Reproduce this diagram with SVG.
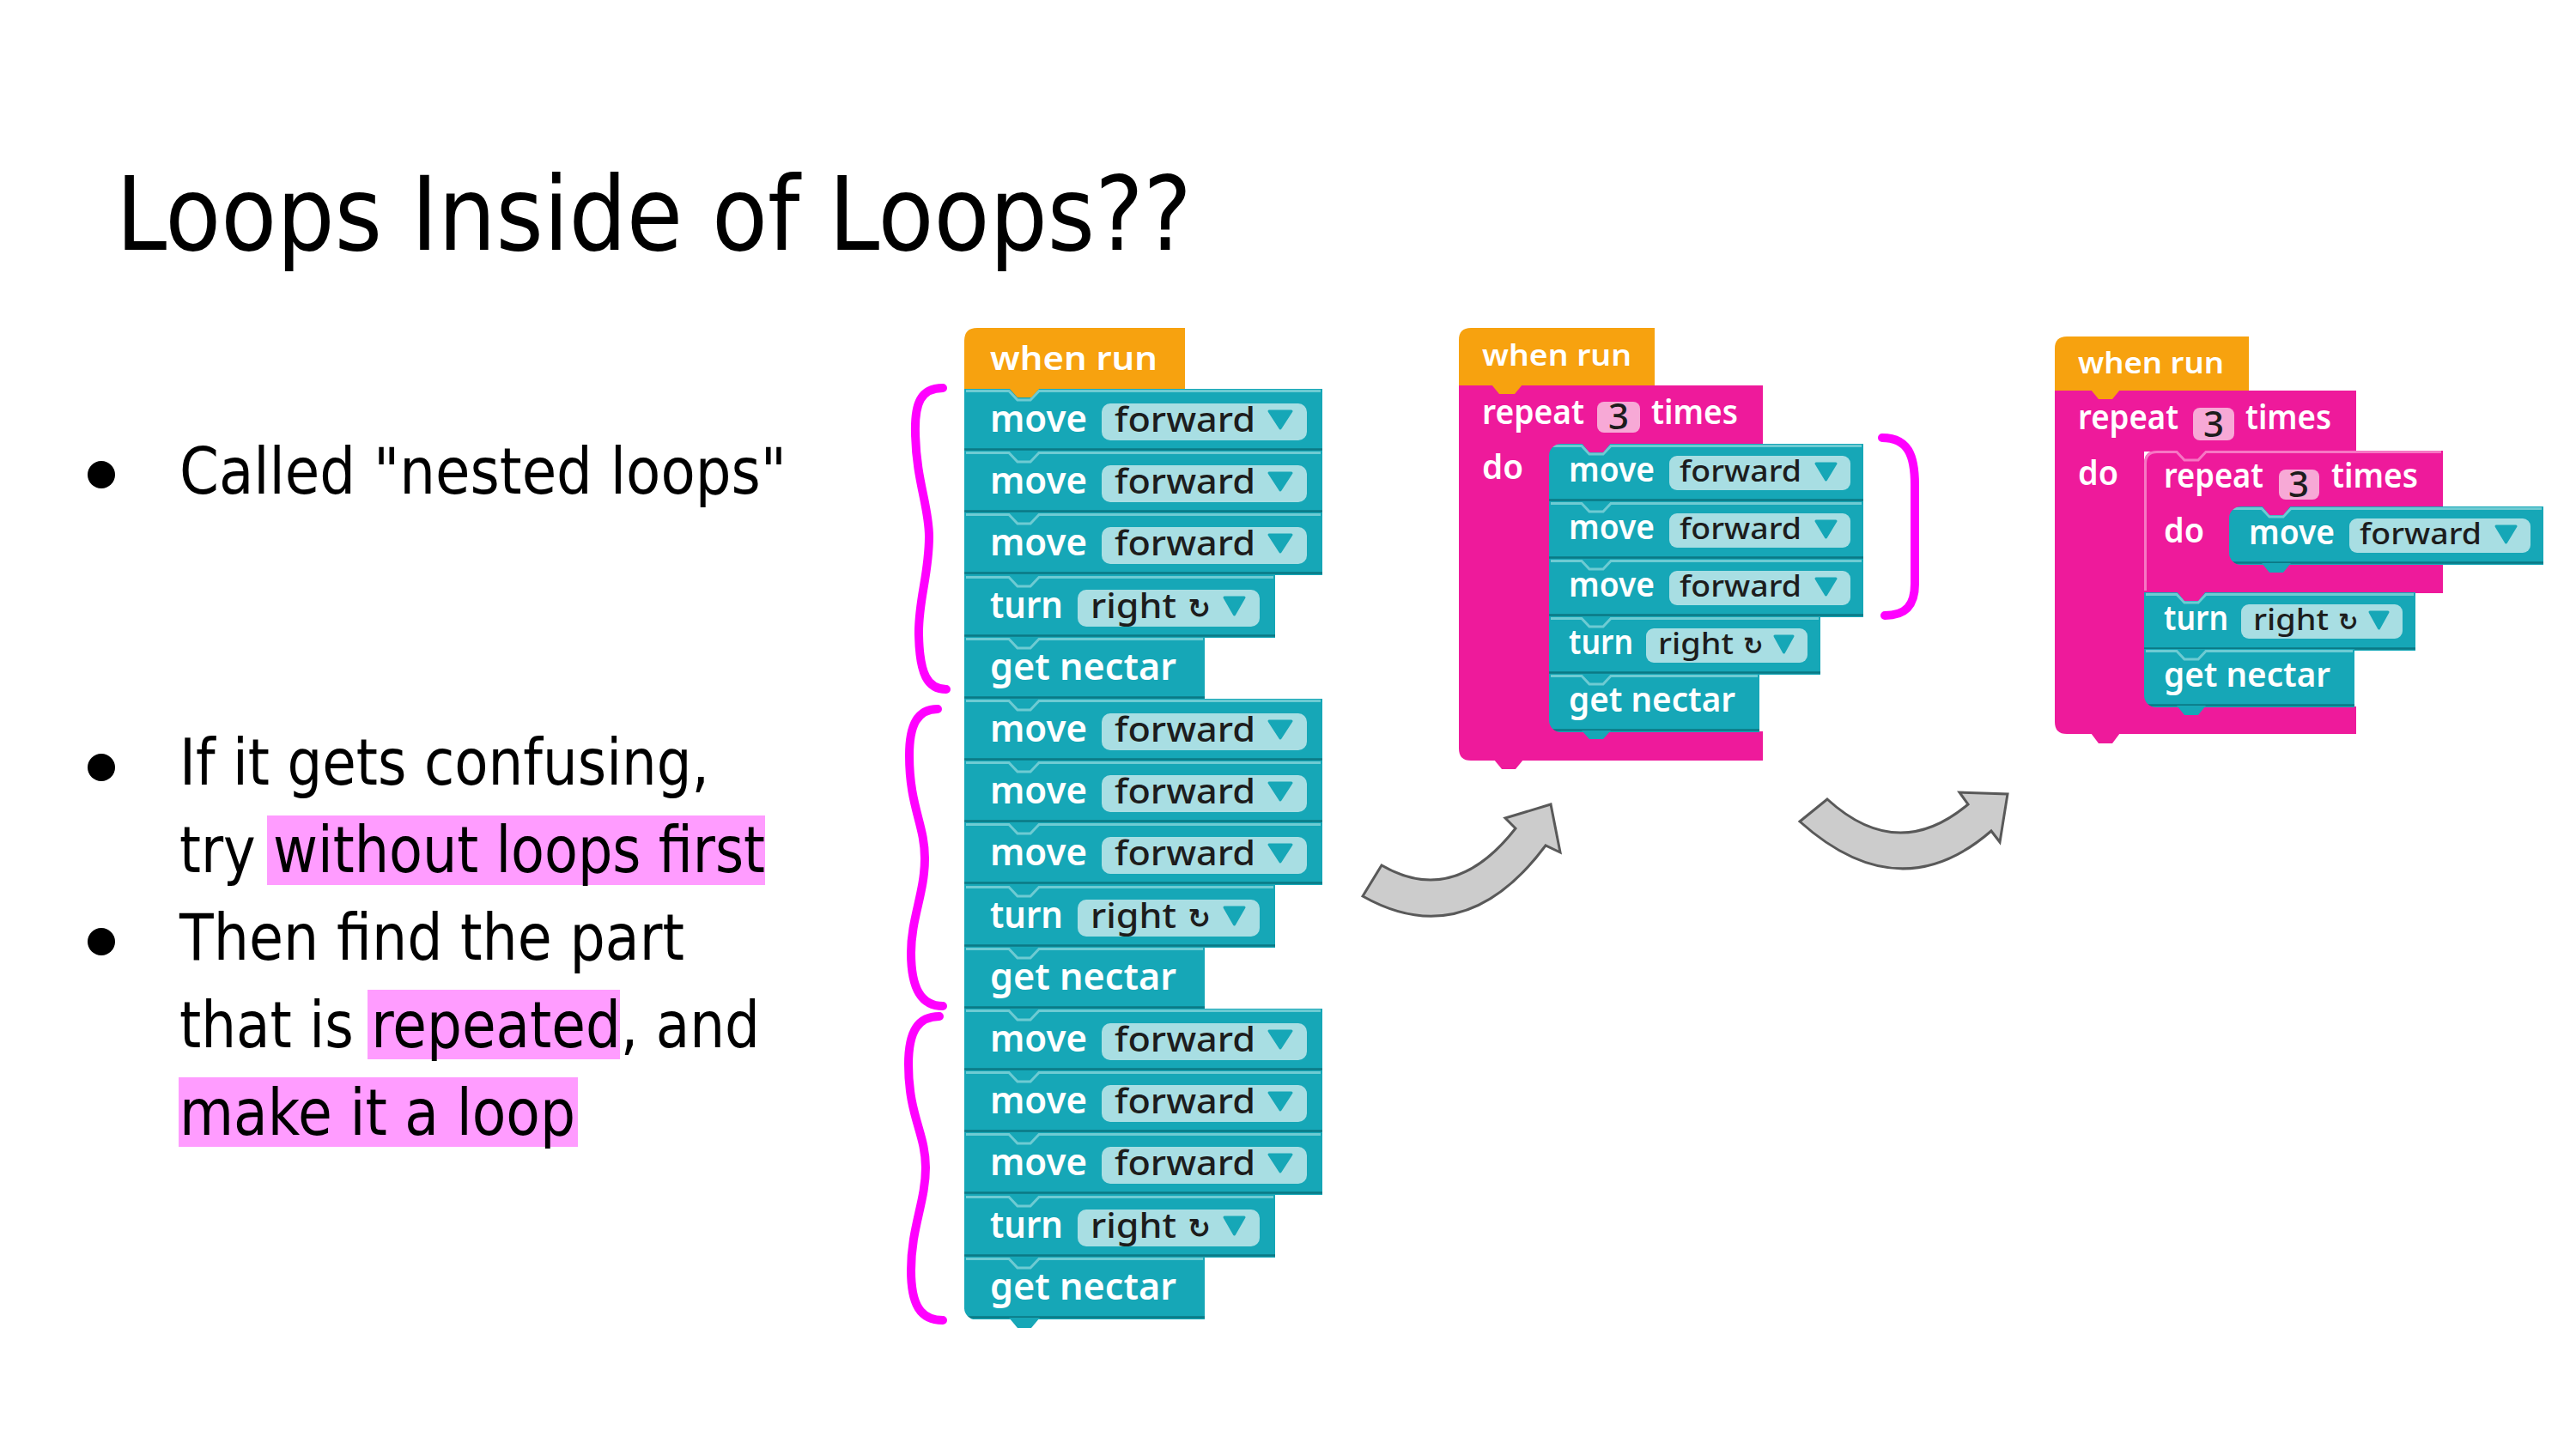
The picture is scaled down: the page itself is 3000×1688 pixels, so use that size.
<svg xmlns="http://www.w3.org/2000/svg" xmlns:xlink="http://www.w3.org/1999/xlink" width="3000" height="1688" viewBox="0 0 3000 1688">
  <style>
    .txt { font-family: "DejaVu Sans", "Liberation Sans", sans-serif; fill: #000; }
    .title { font-size: 120px; }
    .body { font-size: 75px; }
    .mark { fill: #ff9cff; }
    .teal { fill: #16a7b7; }
    .orange { fill: #f7a20f; }
    .pink { fill: #ee1a9b; }
    .hi { fill: none; stroke: #6ecbd3; stroke-width: 3; }
    .sh { fill: none; stroke: #0b7985; stroke-width: 2.5; }
    .pinkhi { fill: none; stroke: #f677c4; stroke-width: 3; }
    .fld { fill: #a8dee3; }
    .num { fill: #f7a9d6; }
    .tri { fill: #16a7b7; stroke: #16a7b7; stroke-width: 3; stroke-linejoin: round; }
    .lb { font-family: "Noto Sans", "Open Sans", sans-serif; font-weight: 600; fill: #fff; }
    .fd { font-family: "Noto Sans", "Open Sans", sans-serif; font-weight: 500; fill: #1d1d1d; }
    .sym { font-family: "DejaVu Sans", sans-serif; font-weight: bold; fill: #1d1d1d; }
    .s1 { font-size: 44px; }
    .s1f { font-size: 40px; }
    .s2 { font-size: 39px; }
    .s2f { font-size: 35px; }
    .n3 { font-size: 42px; }
    .brace { fill: none; stroke: #ff00ff; stroke-width: 10; stroke-linecap: round; stroke-linejoin: round; }
    .arrow { fill: #cccccc; stroke: #595959; stroke-width: 3; stroke-linejoin: miter; }
  </style>
  <defs>
    <!-- large blocks (long program) -->
    <g id="t1-move">
      <rect class="teal" width="417" height="73"/>
      <path class="hi" d="M2,2.5 H52 L62,13 H77 L87,2.5 H415"/>
      <path class="sh" d="M0,70.5 H417"/>
      <rect class="fld" x="160" y="17" width="239" height="43" rx="10"/>
      <text class="lb s1" x="30" y="50" textLength="113" lengthAdjust="spacingAndGlyphs">move</text>
      <text class="fd s1f" x="175" y="50" textLength="164" lengthAdjust="spacingAndGlyphs">forward</text>
      <path class="tri" d="M355,26 H381 L368,46 Z"/>
    </g>
    <g id="t1-turn">
      <rect class="teal" width="362" height="73"/>
      <path class="hi" d="M2,2.5 H52 L62,13 H77 L87,2.5 H360"/>
      <path class="sh" d="M0,70.5 H362"/>
      <rect class="fld" x="132" y="17" width="212" height="43" rx="10"/>
      <text class="lb s1" x="30" y="50" textLength="85" lengthAdjust="spacingAndGlyphs">turn</text>
      <text class="fd s1f" x="147" y="50" textLength="100" lengthAdjust="spacingAndGlyphs">right</text>
      <text class="sym" x="260" y="50" font-size="32">↻</text>
      <path class="tri" d="M303,26 H326 L314.5,46 Z"/>
    </g>
    <g id="t1-nectar">
      <rect class="teal" width="280" height="73"/>
      <path class="hi" d="M2,2.5 H52 L62,13 H77 L87,2.5 H278"/>
      <path class="sh" d="M0,70.5 H280"/>
      <text class="lb s1" x="30" y="50" textLength="217" lengthAdjust="spacingAndGlyphs">get nectar</text>
    </g>
    <!-- smaller blocks (loop programs) -->
    <g id="t2-move">
      <rect class="teal" width="366" height="68"/>
      <path class="hi" d="M2,2.5 H38 L47,12 H63 L72,2.5 H364"/>
      <path class="sh" d="M0,65.5 H366"/>
      <rect class="fld" x="140" y="14" width="211" height="40" rx="9"/>
      <text class="lb s2" x="23" y="44" textLength="100" lengthAdjust="spacingAndGlyphs">move</text>
      <text class="fd s2f" x="152" y="44" textLength="142" lengthAdjust="spacingAndGlyphs">forward</text>
      <path class="tri" d="M311,23 H334 L322.5,42 Z"/>
    </g>
    <g id="t2-turn">
      <rect class="teal" width="316" height="68"/>
      <path class="hi" d="M2,2.5 H38 L47,12 H63 L72,2.5 H314"/>
      <path class="sh" d="M0,65.5 H316"/>
      <rect class="fld" x="113" y="14" width="188" height="40" rx="9"/>
      <text class="lb s2" x="23" y="44" textLength="75" lengthAdjust="spacingAndGlyphs">turn</text>
      <text class="fd s2f" x="127" y="44" textLength="88" lengthAdjust="spacingAndGlyphs">right</text>
      <text class="sym" x="226" y="44" font-size="28">↻</text>
      <path class="tri" d="M263,23 H284 L273.5,42 Z"/>
    </g>
    <g id="t2-nectar">
      <rect class="teal" width="245" height="68"/>
      <path class="hi" d="M2,2.5 H38 L47,12 H63 L72,2.5 H243"/>
      <path class="sh" d="M0,65.5 H245"/>
      <text class="lb s2" x="23" y="44" textLength="194" lengthAdjust="spacingAndGlyphs">get nectar</text>
    </g>
  </defs>

  <rect width="3000" height="1688" fill="#fff"/>

  <!-- slide text -->
  <g id="title">
    <text class="txt title" x="135" y="291" textLength="1253" lengthAdjust="spacingAndGlyphs">Loops Inside of Loops??</text>
  </g>
  <g id="bullets">
    <rect class="mark" x="311" y="950" width="580" height="81"/>
    <rect class="mark" x="428" y="1153" width="294" height="81"/>
    <rect class="mark" x="208" y="1255" width="465" height="81"/>
    <circle cx="118" cy="553" r="16"/>
    <circle cx="118" cy="894" r="16"/>
    <circle cx="118" cy="1097" r="16"/>
    <text class="txt body" x="209" y="575" textLength="707" lengthAdjust="spacingAndGlyphs">Called "nested loops"</text>
    <text class="txt body" x="209" y="914" textLength="617" lengthAdjust="spacingAndGlyphs">If it gets confusing,</text>
    <text class="txt body" x="209" y="1016" textLength="682" lengthAdjust="spacingAndGlyphs">try without loops first</text>
    <text class="txt body" x="209" y="1118" textLength="588" lengthAdjust="spacingAndGlyphs">Then find the part</text>
    <text class="txt body" x="209" y="1220" textLength="676" lengthAdjust="spacingAndGlyphs">that is repeated, and</text>
    <text class="txt body" x="209" y="1322" textLength="461" lengthAdjust="spacingAndGlyphs">make it a loop</text>
  </g>

  <!-- program 1: no loops -->
  <g id="p1-when">
    <path class="orange" d="M1123,397 Q1123,382 1138,382 H1380 V454 H1123 Z"/>
    <text class="lb" font-size="38" x="1153" y="431" textLength="195" lengthAdjust="spacingAndGlyphs">when run</text>
  </g>
  <g id="p1-b01"><use xlink:href="#t1-move" x="1123" y="453"/></g>
  <g id="p1-b02"><use xlink:href="#t1-move" x="1123" y="525"/></g>
  <g id="p1-b03"><use xlink:href="#t1-move" x="1123" y="597"/></g>
  <g id="p1-b04"><use xlink:href="#t1-turn" x="1123" y="670"/></g>
  <g id="p1-b05"><use xlink:href="#t1-nectar" x="1123" y="742"/></g>
  <g id="p1-b06"><use xlink:href="#t1-move" x="1123" y="814"/></g>
  <g id="p1-b07"><use xlink:href="#t1-move" x="1123" y="886"/></g>
  <g id="p1-b08"><use xlink:href="#t1-move" x="1123" y="958"/></g>
  <g id="p1-b09"><use xlink:href="#t1-turn" x="1123" y="1031"/></g>
  <g id="p1-b10"><use xlink:href="#t1-nectar" x="1123" y="1103"/></g>
  <g id="p1-b11"><use xlink:href="#t1-move" x="1123" y="1175"/></g>
  <g id="p1-b12"><use xlink:href="#t1-move" x="1123" y="1247"/></g>
  <g id="p1-b13"><use xlink:href="#t1-move" x="1123" y="1319"/></g>
  <g id="p1-b14"><use xlink:href="#t1-turn" x="1123" y="1392"/></g>
  <g id="p1-b15">
    <use xlink:href="#t1-nectar" x="1123" y="1464"/>
    <path fill="#fff" d="M1123,1537.5 V1523 A14,14 0 0 0 1137,1537.5 Z"/>
    <path class="teal" d="M1175,1535 L1185,1547 H1201 L1211,1535 Z"/>
  </g>
  <path class="orange" d="M1175,452 L1185,463 H1201 L1211,452 Z"/>

  <!-- program 2: one loop -->
  <g id="p2-when">
    <path class="orange" d="M1699,396 Q1699,382 1713,382 H1927 V450 H1699 Z"/>
    <text class="lb" font-size="34" x="1726" y="426" textLength="174" lengthAdjust="spacingAndGlyphs">when run</text>
  </g>
  <g id="p2-repeat">
    <path class="pink" d="M1699,449 H2053 V518 H1804 V852 H2053 V886 H1713 Q1699,886 1699,872 Z"/>
    <text class="lb s2" x="1726" y="494" textLength="119" lengthAdjust="spacingAndGlyphs">repeat</text>
    <rect class="num" x="1860" y="468" width="50" height="36" rx="8"/>
    <text class="fd n3" x="1885" y="500" text-anchor="middle">3</text>
    <text class="lb s2" x="1923" y="494" textLength="101" lengthAdjust="spacingAndGlyphs">times</text>
    <text class="lb s2" x="1726" y="558" textLength="48" lengthAdjust="spacingAndGlyphs">do</text>
    <path class="pink" d="M1740,885 L1749,896 H1765 L1774,885 Z"/>
  </g>
  <g id="p2-b1"><use xlink:href="#t2-move" x="1804" y="517"/></g>
  <g id="p2-b2"><use xlink:href="#t2-move" x="1804" y="584"/></g>
  <g id="p2-b3"><use xlink:href="#t2-move" x="1804" y="651"/></g>
  <g id="p2-b4"><use xlink:href="#t2-turn" x="1804" y="718"/></g>
  <g id="p2-b5"><use xlink:href="#t2-nectar" x="1804" y="785"/></g>
  <path class="pink" d="M1804,517 H1818 A14,14 0 0 0 1804,531 Z"/>
  <path class="pink" d="M1804,853 V839 A14,14 0 0 0 1818,853 Z"/>
  <path class="orange" d="M1737,448 L1746,459 H1764 L1773,448 Z"/>
  <path class="pink" d="M1842,516 L1851,527 H1867 L1876,516 Z"/>
  <path class="teal" d="M1842,851 L1851,861 H1867 L1876,851 Z"/>

  <!-- program 3: loop inside a loop -->
  <g id="p3-when">
    <path class="orange" d="M2393,406 Q2393,392 2407,392 H2619 V456 H2393 Z"/>
    <text class="lb" font-size="34" x="2420" y="435" textLength="170" lengthAdjust="spacingAndGlyphs">when run</text>
  </g>
  <g id="p3-repeat-outer">
    <path class="pink" d="M2393,455 H2744 V526 H2497 V823 H2744 V855 H2407 Q2393,855 2393,841 Z"/>
    <text class="lb s2" x="2420" y="500" textLength="117" lengthAdjust="spacingAndGlyphs">repeat</text>
    <rect class="num" x="2554" y="475" width="48" height="38" rx="8"/>
    <text class="fd n3" x="2578" y="509" text-anchor="middle">3</text>
    <text class="lb s2" x="2615" y="500" textLength="100" lengthAdjust="spacingAndGlyphs">times</text>
    <text class="lb s2" x="2420" y="565" textLength="47" lengthAdjust="spacingAndGlyphs">do</text>
    <path class="pink" d="M2435,854 L2444,866 H2460 L2469,854 Z"/>
  </g>
  <g id="p3-repeat-inner">
    <path class="pink" d="M2497,540 Q2497,525 2512,525 H2845 V591 H2596 V657 H2845 V691 H2497 Z"/>
    <path class="pinkhi" d="M2498.5,688 V540 Q2498.5,526.5 2512,526.5 H2535 L2544,536 H2560 L2569,526.5 H2843"/>
    <text class="lb s2" x="2520" y="568" textLength="116" lengthAdjust="spacingAndGlyphs">repeat</text>
    <rect class="num" x="2654" y="547" width="47" height="35" rx="8"/>
    <text class="fd n3" x="2677" y="579" text-anchor="middle">3</text>
    <text class="lb s2" x="2715" y="568" textLength="101" lengthAdjust="spacingAndGlyphs">times</text>
    <text class="lb s2" x="2520" y="632" textLength="47" lengthAdjust="spacingAndGlyphs">do</text>
  </g>
  <g id="p3-move"><use xlink:href="#t2-move" x="2596" y="590"/></g>
  <path class="pink" d="M2596,590 H2610 A14,14 0 0 0 2596,604 Z"/>
  <path class="pink" d="M2596,658 V644 A14,14 0 0 0 2610,658 Z"/>
  <g id="p3-turn"><use xlink:href="#t2-turn" x="2497" y="690"/></g>
  <g id="p3-nectar"><use xlink:href="#t2-nectar" x="2497" y="756"/></g>
  <path class="pink" d="M2497,824 V810 A14,14 0 0 0 2511,824 Z"/>
  <path class="orange" d="M2435,454 L2444,465 H2460 L2469,454 Z"/>
  <path class="pink" d="M2634,589 L2643,600 H2659 L2668,589 Z"/>
  <path class="teal" d="M2634,656 L2643,667 H2659 L2668,656 Z"/>
  <path class="pink" d="M2535,689 L2544,700 H2560 L2569,689 Z"/>
  <path class="teal" d="M2535,822 L2544,833 H2560 L2569,822 Z"/>

  <!-- marks and arrows between the programs -->
  <g id="connectors">
    <path class="brace" d="M1098,452 C1072,452 1065,470 1066,505 C1067,560 1082,590 1082,625 C1082,670 1069,700 1070,740 C1071,785 1080,803 1102,803"/>
    <path class="brace" d="M1092,826 C1068,826 1059,845 1059,880 C1059,940 1077,960 1077,1000 C1077,1040 1061,1070 1061,1110 C1061,1150 1072,1172 1098,1172"/>
    <path class="brace" d="M1094,1184 C1070,1184 1058,1200 1058,1240 C1058,1300 1078,1320 1078,1360 C1078,1400 1061,1430 1061,1480 C1061,1520 1072,1538 1098,1538"/>
    <path class="brace" d="M2192,510 C2222,510 2230,530 2230,565 V680 C2230,705 2220,717 2195,717"/>
    <path class="arrow" d="M1587,1044 L1609,1008 Q1693,1057 1765,965 L1753,953 L1806,937 L1817,993 L1800,985 Q1706,1111 1587,1044 Z"/>
    <path class="arrow" d="M2096,957 L2128,931 Q2210,1006 2292,937 L2282,923 L2338,925 L2329,981 L2319,968 Q2212,1061 2096,957 Z"/>
  </g>
</svg>
